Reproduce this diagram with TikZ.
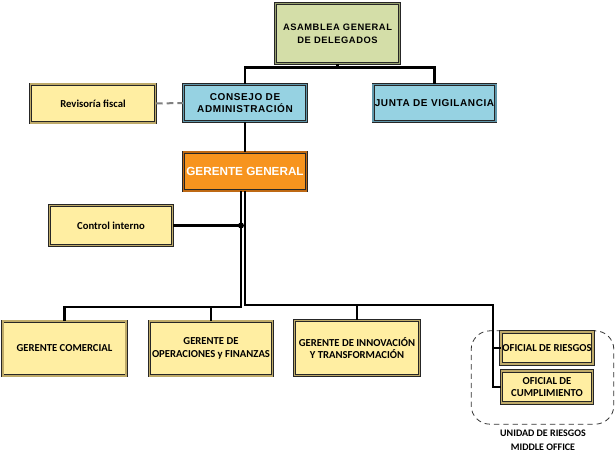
\documentclass[tikz,border=0pt]{standalone}
\usepackage{fontspec}
\setmainfont{Carlito}
\newfontfamily\arialesp[LetterSpace=6]{Liberation Sans}
\newfontfamily\arial{Liberation Sans}
\usetikzlibrary{calc}
\definecolor{verdeasam}{RGB}{212,222,168}
\definecolor{verdeborde}{RGB}{150,160,110}
\definecolor{azulcons}{RGB}{150,210,226}
\definecolor{azulborde}{RGB}{95,150,170}
\definecolor{naranjager}{RGB}{247,148,30}
\definecolor{naranjaborde}{RGB}{190,105,20}
\definecolor{amarillo}{RGB}{255,238,162}
\definecolor{amarilloborde}{RGB}{190,170,105}
\begin{document}
\begin{tikzpicture}[x=0.75pt,y=-0.75pt,
  caja/.style={draw=black!85,line width=0.6pt,double distance=1.2pt,align=center,inner sep=1pt},
  amarilla/.style={caja,fill=amarillo,double=amarilloborde,font=\fontsize{8}{9.5}\selectfont\bfseries},
  azul/.style={caja,fill=azulcons,double=azulborde,font=\arialesp\fontsize{7.5}{9.5}\selectfont\bfseries},
  conector/.style={line width=2.1pt}]
\useasboundingbox (0,0) rectangle (616,459);
% unidad de riesgos
\node[draw=black!80,dash pattern=on 4pt off 3pt,line width=0.6pt,rounded corners=14pt,minimum width=107pt,minimum height=70pt] (unidad) at (542.5,377.5) {};
\node[font=\fontsize{7.5}{10.5}\selectfont\bfseries,align=center] (etiqueta) at (543,440) {UNIDAD DE RIESGOS\\MIDDLE OFFICE};
% cajas
\node[caja,fill=verdeasam,double=verdeborde,font=\arialesp\fontsize{7}{10}\selectfont\bfseries,minimum width=93pt,minimum height=45pt] (asamblea) at (337.5,33.5) {ASAMBLEA GENERAL\\DE DELEGADOS};
\node[azul,minimum width=92.5pt,minimum height=28pt] (consejo) at (245,103) {CONSEJO DE\\ADMINISTRACIÓN};
\node[azul,minimum width=92pt,minimum height=28pt] (junta) at (434.5,103) {JUNTA DE VIGILANCIA};
\node[amarilla,minimum width=94pt,minimum height=29pt] (revisoria) at (93,103.5) {Revisoría fiscal};
\node[caja,fill=naranjager,double=naranjaborde,text=white,font=\arial\fontsize{8.8}{11}\selectfont\bfseries,minimum width=92.5pt,minimum height=29pt] (gerente) at (245,171.5) {GERENTE GENERAL};
\node[amarilla,minimum width=92.5pt,minimum height=30pt] (control) at (111,225.5) {Control interno};
\node[amarilla,minimum width=92.5pt,minimum height=41pt] (comercial) at (64.5,348.5) {GERENTE COMERCIAL};
\node[amarilla,minimum width=92.5pt,minimum height=41pt] (operaciones) at (211,348.5) {GERENTE DE\\OPERACIONES y FINANZAS};
\node[amarilla,minimum width=94pt,minimum height=41pt] (innovacion) at (357,348) {GERENTE DE INNOVACIÓN\\Y TRANSFORMACIÓN};
\node[amarilla,minimum width=68.5pt,minimum height=24pt] (riesgos) at (547,348) {OFICIAL DE RIESGOS};
\node[amarilla,minimum width=68.5pt,minimum height=24pt] (cumplimiento) at (547,387) {OFICIAL DE\\CUMPLIMIENTO};
% conectores
\draw[conector] (asamblea.south) -- ++(0,4) -| (consejo.north);
\draw[conector] (asamblea.south) -- ++(0,4) -| (junta.north);
\draw[gray,line width=1.5pt,dash pattern=on 5pt off 3pt] (revisoria.east) -- (consejo.west);
\draw[conector] (consejo.south) -- (gerente.north);
\coordinate (troncoI) at (241,307);
\coordinate (troncoD) at (245,305);
\coordinate (ramal) at (493,305);
\draw[conector] (gerente.south -| troncoI) -- (troncoI) -| (comercial.north);
\draw[conector] (troncoI -| operaciones.north) -- (operaciones.north);
\draw[conector] (gerente.south) -- (troncoD) -- (ramal) |- (cumplimiento.west);
\draw[conector] (troncoD -| innovacion.north) -- (innovacion.north);
\draw[conector] (ramal |- riesgos.west) -- (riesgos.west);
\draw[conector] (control.east) -- (control.east -| troncoI);
\fill (control.east -| troncoI) circle (3);
\end{tikzpicture}
\end{document}
